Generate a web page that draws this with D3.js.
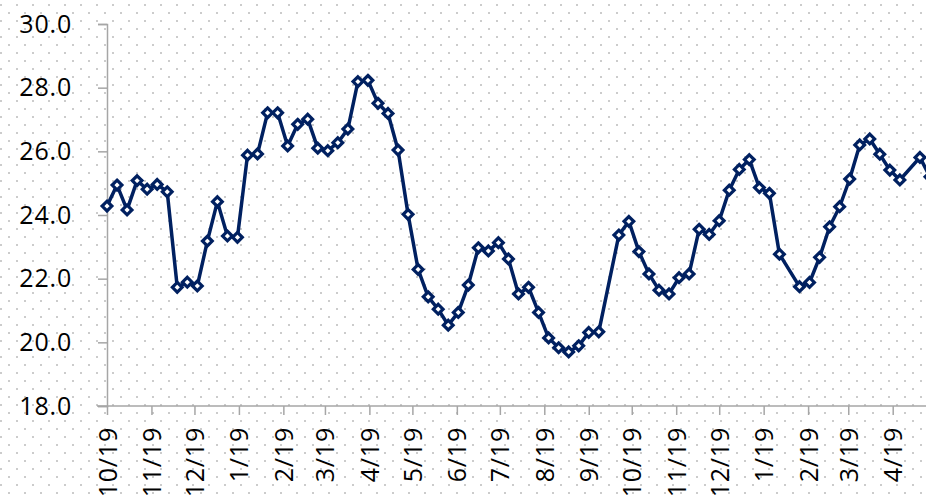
<!DOCTYPE html>
<html>
<head>
<meta charset="utf-8">
<script src="https://cdn.jsdelivr.net/npm/d3@7"></script>
<style>
  html, body { margin: 0; padding: 0; background: #fff; }
  svg { display: block; }
</style>
</head>
<body>
<svg id="chart" width="926" height="498"></svg>
<script>
// ---- data ----
const dates = [
  "2019-10-01","2019-10-08","2019-10-15","2019-10-22","2019-10-29","2019-11-05","2019-11-12","2019-11-19",
  "2019-11-26","2019-12-03","2019-12-10","2019-12-17","2019-12-24","2019-12-31","2020-01-07","2020-01-14",
  "2020-01-21","2020-01-28","2020-02-04","2020-02-11","2020-02-18","2020-02-25","2020-03-03","2020-03-10",
  "2020-03-17","2020-03-24","2020-03-31","2020-04-07","2020-04-14","2020-04-21","2020-04-28","2020-05-05",
  "2020-05-12","2020-05-19","2020-05-26","2020-06-02","2020-06-09","2020-06-16","2020-06-23","2020-06-30",
  "2020-07-07","2020-07-14","2020-07-21","2020-07-28","2020-08-04","2020-08-11","2020-08-18","2020-08-25",
  "2020-09-01","2020-09-08","2020-09-22","2020-09-29","2020-10-06","2020-10-13","2020-10-20","2020-10-27",
  "2020-11-03","2020-11-10","2020-11-17","2020-11-24","2020-12-01","2020-12-08","2020-12-15","2020-12-22",
  "2020-12-29","2021-01-05","2021-01-12","2021-01-26","2021-02-02","2021-02-09","2021-02-16","2021-02-23",
  "2021-03-02","2021-03-09","2021-03-16","2021-03-23","2021-03-30","2021-04-06","2021-04-20","2021-04-27"
];
const values = [
  24.28,24.94,24.16,25.08,24.81,24.96,24.73,21.73,
  21.89,21.77,23.18,24.42,23.34,23.30,25.88,25.92,
  27.21,27.21,26.17,26.85,27.01,26.10,26.02,26.27,
  26.70,28.19,28.23,27.51,27.19,26.04,24.02,22.29,
  21.43,21.04,20.54,20.94,21.80,22.97,22.87,23.13,
  22.62,21.52,21.73,20.94,20.14,19.83,19.70,19.89,
  20.31,20.33,23.37,23.80,22.85,22.15,21.64,21.52,
  22.03,22.15,23.55,23.39,23.82,24.78,25.43,25.74,
  24.86,24.68,22.77,21.75,21.88,22.67,23.63,24.26,
  25.13,26.20,26.39,25.91,25.41,25.10,25.81,25.20
];
const tickDates = [
  "2019-10-01","2019-11-01","2019-12-01","2020-01-01","2020-02-01","2020-03-01","2020-04-01",
  "2020-05-01","2020-06-01","2020-07-01","2020-08-01","2020-09-01","2020-10-01","2020-11-01",
  "2020-12-01","2021-01-01","2021-02-01","2021-03-01","2021-04-01"
];
const tickLabels = [
  "10/19","11/19","12/19","1/19","2/19","3/19","4/19","5/19","6/19","7/19",
  "8/19","9/19","10/19","11/19","12/19","1/19","2/19","3/19","4/19"
];
const yTicks = [18, 20, 22, 24, 26, 28, 30];

// ---- chart ----
const W = 926, H = 498;
const svg = d3.select("#chart");
const parse = d3.timeParse("%Y-%m-%d");
const data = dates.map((d, i) => ({ date: parse(d), value: values[i] }));
const tDates = tickDates.map(parse);

// background dotted pattern
const defs = svg.append("defs");
const pat = defs.append("pattern")
  .attr("id", "dots").attr("patternUnits", "userSpaceOnUse")
  .attr("x", 0).attr("y", 4).attr("width", 16).attr("height", 16);
pat.append("rect").attr("x", 0).attr("y", 0).attr("width", 2).attr("height", 2).attr("fill", "#cccccc");
pat.append("rect").attr("x", 8).attr("y", 8).attr("width", 2).attr("height", 2).attr("fill", "#cccccc");
svg.append("rect").attr("width", W).attr("height", H).attr("fill", "#fff");
svg.append("rect").attr("width", W).attr("height", H).attr("fill", "url(#dots)");

const x = d3.scaleTime().domain([tDates[0], tDates[tDates.length - 1]]).range([107, 892.7]);
const y = d3.scaleLinear().domain([18, 30]).range([406, 24]);

const font = "'Open Sans', 'DejaVu Sans', sans-serif";
const axisColor = "#a6a6a6";

// y axis
const yAxis = svg.append("g").attr("transform", "translate(107,0)")
  .call(d3.axisLeft(y).tickValues(yTicks).tickFormat(d3.format(".1f")).tickSize(9).tickPadding(26));
yAxis.select(".domain").attr("stroke", axisColor).attr("stroke-width", 1.5);
yAxis.selectAll(".tick line").attr("stroke", axisColor).attr("stroke-width", 1.5);
yAxis.selectAll("text").attr("fill", "#000").style("font-family", font)
  .style("font-size", "25px").style("letter-spacing", "0.8px");

// x axis
const labelMap = new Map(tDates.map((d, i) => [+d, tickLabels[i]]));
const xAxis = svg.append("g").attr("transform", "translate(0,406)")
  .call(d3.axisBottom(x).tickValues(tDates).tickFormat(d => labelMap.get(+d)).tickSize(9).tickSizeOuter(0));
xAxis.select(".domain").attr("stroke", axisColor).attr("stroke-width", 1.5)
  .attr("d", `M97,0H${W}`);
xAxis.selectAll(".tick line").attr("stroke", axisColor).attr("stroke-width", 1.5);
xAxis.selectAll("text")
  .attr("fill", "#000")
  .style("font-family", font).style("font-size", "25px").style("letter-spacing", "0.8px")
  .attr("text-anchor", "end")
  .attr("transform", "rotate(-90)")
  .attr("x", -21).attr("y", 0).attr("dy", "0.36em");

// line
const color = "#002060";
svg.append("path").datum(data)
  .attr("fill", "none").attr("stroke", color).attr("stroke-width", 3.5)
  .attr("stroke-linejoin", "round")
  .attr("d", d3.line().x(d => x(d.date)).y(d => y(d.value)));

// markers (diamonds)
const sym = d3.symbol().type(d3.symbolDiamond2).size(60);
svg.append("g").selectAll("path").data(data).join("path")
  .attr("transform", d => `translate(${x(d.date)},${y(d.value)})`)
  .attr("d", sym)
  .attr("fill", "#fff").attr("stroke", color).attr("stroke-width", 3.2);
</script>
</body>
</html>
